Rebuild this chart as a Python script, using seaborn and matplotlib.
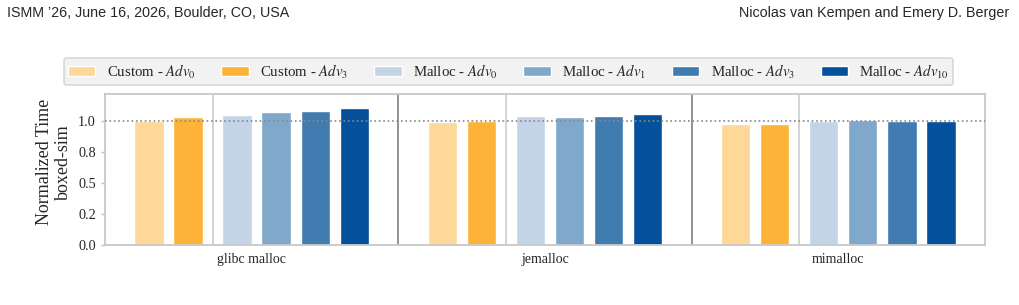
import numpy as np
import pandas as pd
import matplotlib
matplotlib.use("Agg")
import matplotlib.pyplot as plt
import seaborn as sns

# data
allocators = ["glibc malloc", "jemalloc", "mimalloc"]
series = ["Custom - $Adv_0$", "Custom - $Adv_3$",
          "Malloc - $Adv_0$", "Malloc - $Adv_1$",
          "Malloc - $Adv_3$", "Malloc - $Adv_{10}$"]
custom_adv0 = [1.000, 0.995, 0.980]
custom_adv3 = [1.032, 1.000, 0.980]
malloc_adv0 = [1.048, 1.040, 1.000]
malloc_adv1 = [1.072, 1.032, 1.008]
malloc_adv3 = [1.080, 1.040, 1.000]
malloc_adv10 = [1.105, 1.056, 1.000]
colors = ["#FDD899", "#FDB338", "#C2D4E6", "#80A8CB", "#407CB0", "#04509A"]

values = [custom_adv0, custom_adv3, malloc_adv0, malloc_adv1, malloc_adv3, malloc_adv10]

# bar offsets inside a group: two custom bars, a gap, four malloc bars
pitch = 0.4 / 3
offsets = [-0.35, -0.35 + pitch, 0.35 - 3 * pitch, 0.35 - 2 * pitch, 0.35 - pitch, 0.35]

rows = []
for s, (name, vals) in enumerate(zip(series, values)):
    for g, v in enumerate(vals):
        rows.append({"pos": g + offsets[s], "value": v, "series": name})
df = pd.DataFrame(rows)

sns.set_style("white")
plt.rcParams["font.family"] = ["Liberation Serif", "DejaVu Serif"]
plt.rcParams["mathtext.fontset"] = "stix"

fig = plt.figure(figsize=(10.19, 3.05), dpi=100)
ax = fig.add_axes([105 / 1019, 1 - 245 / 305, 880 / 1019, 151 / 305])

sns.barplot(data=df, x="pos", y="value", hue="series", hue_order=series,
            palette=colors, native_scale=True, dodge=False, width=0.75,
            saturation=1, ax=ax, legend=False, zorder=2)

# separators between custom / malloc bars and between allocators
for g in range(len(allocators)):
    ax.axvline(g + 0.5 * (offsets[1] + offsets[2]), color="#CCCCCC", lw=1.2, zorder=1)
for b in [0.5, 1.5]:
    ax.axvline(b, color="#8A8A8A", lw=1.3, zorder=1)
ax.axhline(1.0, color="#888888", ls=":", lw=1.2, zorder=3)

ax.set_xlim(-0.5, 2.5)
ax.set_ylim(0, 1.22)
ax.set_xticks(range(len(allocators)))
ax.set_xticklabels(allocators, fontsize=10)
ax.set_yticks([0, 0.25, 0.5, 0.75, 1.0])
ax.yaxis.set_major_formatter(matplotlib.ticker.FormatStrFormatter("%.1f"))
ax.tick_params(axis="y", labelsize=10.3, length=3, color="#C0C0C0", width=1, left=True)
ax.tick_params(axis="x", length=0, pad=6)
ax.set_xlabel("")
ax.set_ylabel("Normalized Time\nboxed-sim", fontsize=13, linespacing=1.2)
ax.yaxis.set_label_coords(-0.037, 0.55)
for sp in ax.spines.values():
    sp.set_color("#C8C8C8")
    sp.set_linewidth(1.3)

handles = [matplotlib.patches.Patch(facecolor=c, label=n) for c, n in zip(colors, series)]
leg = fig.legend(handles=handles, loc="center", bbox_to_anchor=(508.5 / 1019, 1 - 71.5 / 305),
                 ncol=6, fontsize=10.7, frameon=True, fancybox=True,
                 handlelength=1.85, handleheight=0.7, columnspacing=1.75,
                 handletextpad=0.75, borderpad=0.3, borderaxespad=0)
leg.get_frame().set_facecolor("#EFEFEF")
leg.get_frame().set_edgecolor("#D0D0D0")
leg.get_frame().set_linewidth(1.2)

fig.text(7 / 1019, 1 - 13 / 305, "ISMM \u201926, June 16, 2026, Boulder, CO, USA",
         fontsize=10.3, family=["Liberation Sans", "DejaVu Sans"], va="center", ha="left")
fig.text(1 - 10 / 1019, 1 - 13 / 305, "Nicolas van Kempen and Emery D. Berger",
         fontsize=10.3, family=["Liberation Sans", "DejaVu Sans"], va="center", ha="right")

fig.savefig("out.png", dpi=100)
